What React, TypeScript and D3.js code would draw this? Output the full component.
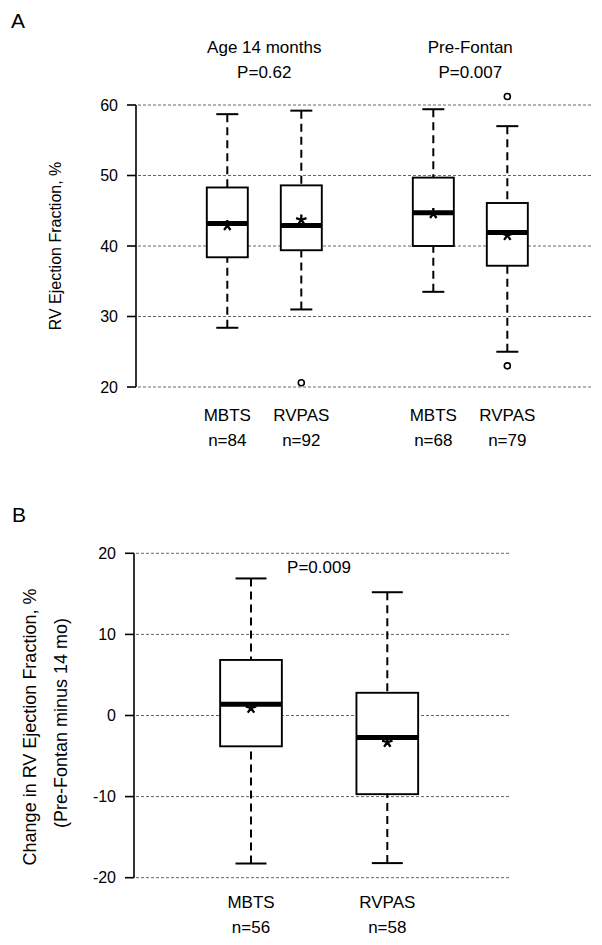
import React from "react";
import * as d3 from "d3";

// ---------- data ----------
const seriesNames = ["MBTS", "RVPAS"];
const groupTitlesA = ["Age 14 months", "Pre-Fontan"];
const pValuesA = ["P=0.62", "P=0.007"];
const nA = [84, 92, 68, 79];
const lowA = [28.4, 31.0, 33.5, 25.0];
const q1A = [38.4, 39.4, 40.0, 37.2];
const medA = [43.2, 42.9, 44.7, 41.9];
const q3A = [48.3, 48.6, 49.7, 46.1];
const highA = [58.7, 59.2, 59.4, 57.0];
const meanA = [42.9, 43.7, 44.6, 41.5];
const outliersA: number[][] = [[], [20.6], [], [61.2, 23.0]];
const ticksA = [20, 30, 40, 50, 60];

const pValueB = "P=0.009";
const nB = [56, 58];
const lowB = [-18.25, -18.2];
const q1B = [-3.8, -9.7];
const medB = [1.4, -2.7];
const q3B = [6.85, 2.8];
const highB = [16.9, 15.2];
const meanB = [0.9, -3.3];
const outliersB: number[][] = [[], []];
const ticksB = [-20, -10, 0, 10, 20];

// ---------- layout ----------
const W = 602;
const H = 945;
const FONT = "'Liberation Sans', Arial, Helvetica, sans-serif";

const yA = d3.scaleLinear().domain([20, 60]).range([387, 105]);
const yB = d3.scaleLinear().domain([-20, 20]).range([877.7, 553.3]);
const xA = d3.scaleLinear().domain([0, 1]).range([227.3, 301.3]);
const xB = d3.scaleLinear().domain([0, 1]).range([251, 387.3]);
const GROUP_GAP_A = 2.784;

function Asterisk({ cx, cy, r = 5.5 }: { cx: number; cy: number; r?: number }) {
  const angles = [90, 18, 162, -54, -126];
  const d = angles
    .map((a) => {
      const t = (a * Math.PI) / 180;
      return `M${cx},${cy}L${cx + r * Math.cos(t)},${cy - r * Math.sin(t)}`;
    })
    .join("");
  return <path d={d} stroke="#000" strokeWidth={2.3} fill="none" />;
}

type BoxProps = {
  x: number;
  y: d3.ScaleLinear<number, number>;
  low: number;
  q1: number;
  med: number;
  q3: number;
  high: number;
  mean: number;
  outliers: number[];
  boxW: number;
  capW: number;
};

function Box({ x, y, low, q1, med, q3, high, mean, outliers, boxW, capW }: BoxProps) {
  return (
    <g>
      <line x1={x} x2={x} y1={y(high)} y2={y(q3)} stroke="#000" strokeWidth={2} strokeDasharray="8,5" />
      <line x1={x} x2={x} y1={y(low)} y2={y(q1)} stroke="#000" strokeWidth={2} strokeDasharray="8,5" />
      <line x1={x - capW / 2} x2={x + capW / 2} y1={y(high)} y2={y(high)} stroke="#000" strokeWidth={2} />
      <line x1={x - capW / 2} x2={x + capW / 2} y1={y(low)} y2={y(low)} stroke="#000" strokeWidth={2} />
      <rect
        x={x - boxW / 2}
        y={y(q3)}
        width={boxW}
        height={y(q1) - y(q3)}
        fill="#fff"
        stroke="#000"
        strokeWidth={1.9}
      />
      <line x1={x - boxW / 2} x2={x + boxW / 2} y1={y(med)} y2={y(med)} stroke="#000" strokeWidth={5} />
      <Asterisk cx={x} cy={y(mean)} />
      {outliers.map((o, i) => (
        <circle key={i} cx={x} cy={y(o)} r={3} fill="none" stroke="#000" strokeWidth={1.6} />
      ))}
    </g>
  );
}

function YAxis({
  y,
  ticks,
  axisX,
  gridEnd,
}: {
  y: d3.ScaleLinear<number, number>;
  ticks: number[];
  axisX: number;
  gridEnd: number;
}) {
  const [d0, d1] = y.domain();
  return (
    <g>
      {ticks.map((t) => (
        <line
          key={"g" + t}
          x1={axisX + 2}
          x2={gridEnd}
          y1={y(t)}
          y2={y(t)}
          stroke="#555"
          strokeWidth={0.9}
          strokeDasharray="3,2"
        />
      ))}
      <line x1={axisX} x2={axisX} y1={y(d0)} y2={y(d1)} stroke="#000" strokeWidth={1.6} />
      {ticks.map((t) => (
        <g key={"t" + t}>
          <line x1={axisX - 9} x2={axisX} y1={y(t)} y2={y(t)} stroke="#000" strokeWidth={1.6} />
          <text x={axisX - 18} y={y(t) + 5.5} textAnchor="end" fontSize={16} fontFamily={FONT}>
            {t}
          </text>
        </g>
      ))}
    </g>
  );
}

export default function App() {
  const posA = (g: number, i: number) => xA(g * GROUP_GAP_A + i);
  return (
    <svg
      width={W}
      height={H}
      viewBox={`0 0 ${W} ${H}`}
      style={{ position: "absolute", left: 0, top: 0, background: "#fff" }}
    >
      <rect x={0} y={0} width={W} height={H} fill="#fff" />

      {/* ---------------- Panel A ---------------- */}
      <text x={11} y={28} fontSize={21} fontFamily={FONT}>
        A
      </text>
      {groupTitlesA.map((t, g) => {
        const cx = (posA(g, 0) + posA(g, 1)) / 2;
        return (
          <g key={t}>
            <text x={cx} y={53} textAnchor="middle" fontSize={17} fontFamily={FONT}>
              {t}
            </text>
            <text x={cx} y={78} textAnchor="middle" fontSize={17} fontFamily={FONT}>
              {pValuesA[g]}
            </text>
          </g>
        );
      })}
      <YAxis y={yA} ticks={ticksA} axisX={136} gridEnd={592} />
      <text
        transform={`translate(61,246) rotate(-90)`}
        textAnchor="middle"
        fontSize={16}
        fontFamily={FONT}
      >
        RV Ejection Fraction, %
      </text>
      {nA.map((n, k) => {
        const g = Math.floor(k / 2);
        const i = k % 2;
        const x = posA(g, i);
        return (
          <g key={"a" + k}>
            <Box
              x={x}
              y={yA}
              low={lowA[k]}
              q1={q1A[k]}
              med={medA[k]}
              q3={q3A[k]}
              high={highA[k]}
              mean={meanA[k]}
              outliers={outliersA[k]}
              boxW={41}
              capW={22}
            />
            <text x={x} y={421} textAnchor="middle" fontSize={17} fontFamily={FONT}>
              {seriesNames[i]}
            </text>
            <text x={x} y={446} textAnchor="middle" fontSize={17} fontFamily={FONT}>
              {"n=" + n}
            </text>
          </g>
        );
      })}

      {/* ---------------- Panel B ---------------- */}
      <text x={12} y={522} fontSize={21} fontFamily={FONT}>
        B
      </text>
      <YAxis y={yB} ticks={ticksB} axisX={134} gridEnd={511} />
      <text
        transform={`translate(36,727) rotate(-90)`}
        textAnchor="middle"
        fontSize={18}
        fontFamily={FONT}
      >
        Change in RV Ejection Fraction, %
      </text>
      <text
        transform={`translate(67,723) rotate(-90)`}
        textAnchor="middle"
        fontSize={18}
        fontFamily={FONT}
      >
        (Pre-Fontan minus 14 mo)
      </text>
      <text x={319} y={573} textAnchor="middle" fontSize={17} fontFamily={FONT}>
        {pValueB}
      </text>
      {nB.map((n, i) => {
        const x = xB(i);
        return (
          <g key={"b" + i}>
            <Box
              x={x}
              y={yB}
              low={lowB[i]}
              q1={q1B[i]}
              med={medB[i]}
              q3={q3B[i]}
              high={highB[i]}
              mean={meanB[i]}
              outliers={outliersB[i]}
              boxW={61.7}
              capW={31}
            />
            <text x={x} y={908} textAnchor="middle" fontSize={17} fontFamily={FONT}>
              {seriesNames[i]}
            </text>
            <text x={x} y={933} textAnchor="middle" fontSize={17} fontFamily={FONT}>
              {"n=" + n}
            </text>
          </g>
        );
      })}
    </svg>
  );
}
